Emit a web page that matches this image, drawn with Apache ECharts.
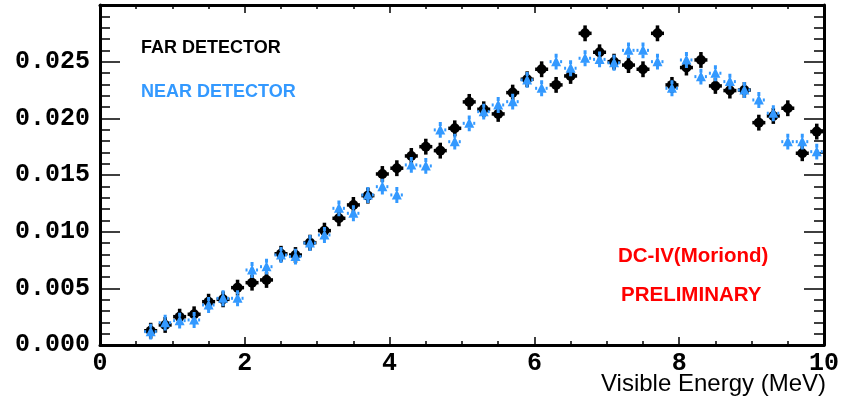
<!DOCTYPE html>
<html>
<head>
<meta charset="utf-8">
<script src="https://cdn.jsdelivr.net/npm/echarts@6/dist/echarts.min.js"></script>
<style>
  html, body { margin: 0; padding: 0; background: #fff; }
  #chart { width: 842px; height: 404px; }
</style>
</head>
<body>
<div id="chart"></div>
<script>
// bin centres (MeV), 0.2 MeV bins
const energy = [0.7, 0.9, 1.1, 1.3, 1.5, 1.7, 1.9, 2.1, 2.3, 2.5,
  2.7, 2.9, 3.1, 3.3, 3.5, 3.7, 3.9, 4.1, 4.3, 4.5,
  4.7, 4.9, 5.1, 5.3, 5.5, 5.7, 5.9, 6.1, 6.3, 6.5,
  6.7, 6.9, 7.1, 7.3, 7.5, 7.7, 7.9, 8.1, 8.3, 8.5,
  8.7, 8.9, 9.1, 9.3, 9.5, 9.7, 9.9];

// normalised spectra
const farDetector = [0.00126, 0.00177, 0.00250, 0.00271, 0.00382, 0.00403, 0.00506, 0.00550, 0.00574, 0.00805,
  0.00794, 0.00903, 0.01009, 0.01118, 0.01236, 0.01318, 0.01509, 0.01560, 0.01668, 0.01750,
  0.01715, 0.01912, 0.02145, 0.02080, 0.02039, 0.02227, 0.02345, 0.02433, 0.02295, 0.02374,
  0.02750, 0.02583, 0.02500, 0.02470, 0.02433, 0.02750, 0.02295, 0.02448, 0.02515, 0.02286,
  0.02245, 0.02250, 0.01962, 0.02021, 0.02089, 0.01692, 0.01883];
const nearDetector = [0.00118, 0.00197, 0.00215, 0.00221, 0.00353, 0.00412, 0.00412, 0.00662, 0.00691, 0.00794,
  0.00780, 0.00900, 0.00971, 0.01206, 0.01162, 0.01324, 0.01397, 0.01324, 0.01589, 0.01580,
  0.01898, 0.01794, 0.01956, 0.02059, 0.02118, 0.02147, 0.02339, 0.02265, 0.02500, 0.02442,
  0.02530, 0.02520, 0.02490, 0.02600, 0.02600, 0.02500, 0.02265, 0.02515, 0.02368, 0.02398,
  0.02324, 0.02250, 0.02162, 0.02045, 0.01794, 0.01794, 0.01706];

const halfBin = 0.09;
const yErr = 0.0007;
const blue = '#3399ff';

const farData = energy.map((e, i) => [e, farDetector[i]]);
const nearData = energy.map((e, i) => [e, nearDetector[i]]);

function farItem(params, api) {
  const x = api.value(0), y = api.value(1);
  const c = api.coord([x, y]);
  const l = api.coord([x - halfBin, y]);
  const r = api.coord([x + halfBin, y]);
  const t = api.coord([x, y + yErr]);
  const b = api.coord([x, y - yErr]);
  return {
    type: 'group',
    children: [
      { type: 'line', shape: { x1: l[0], y1: c[1], x2: r[0], y2: c[1] }, style: { stroke: '#000', lineWidth: 3.5 } },
      { type: 'line', shape: { x1: c[0], y1: t[1], x2: c[0], y2: b[1] }, style: { stroke: '#000', lineWidth: 3.5 } },
      { type: 'circle', shape: { cx: c[0], cy: c[1], r: 5 }, style: { fill: '#000' } }
    ]
  };
}

function nearItem(params, api) {
  const x = api.value(0), y = api.value(1);
  const c = api.coord([x, y]);
  const l = api.coord([x - halfBin, y]);
  const r = api.coord([x + halfBin, y]);
  const t = api.coord([x, y + yErr]);
  const b = api.coord([x, y - yErr]);
  return {
    type: 'group',
    children: [
      { type: 'line', shape: { x1: l[0], y1: c[1], x2: c[0] - 4, y2: c[1] }, style: { stroke: blue, lineWidth: 3, lineDash: [2, 3] } },
      { type: 'line', shape: { x1: c[0] + 4, y1: c[1], x2: r[0], y2: c[1] }, style: { stroke: blue, lineWidth: 3, lineDash: [2, 3] } },
      { type: 'line', shape: { x1: c[0], y1: t[1], x2: c[0], y2: b[1] }, style: { stroke: blue, lineWidth: 3, lineDash: [4, 2] } },
      { type: 'polygon', shape: { points: [[c[0], c[1] - 5.5], [c[0] - 5, c[1] + 4.5], [c[0] + 5, c[1] + 4.5]] }, style: { fill: blue } }
    ]
  };
}

const chart = echarts.init(document.getElementById('chart'));

const tickFont = { fontFamily: 'Liberation Mono', fontWeight: 'bold', fontSize: 25, color: '#000' };
const frameLine = { show: true, onZero: false, lineStyle: { color: '#000', width: 3 } };

chart.setOption({
  animation: false,
  grid: { left: 100, right: 16, top: 5, bottom: 59 },
  xAxis: [
    {
      type: 'value', min: 0, max: 10, interval: 2,
      axisLine: frameLine,
      axisTick: { show: true, inside: true, length: 8, lineStyle: { color: '#000', width: 1.5 } },
      minorTick: { show: true, splitNumber: 4, length: 4, lineStyle: { color: '#000', width: 1.5 } },
      axisLabel: Object.assign({ margin: 6 }, tickFont),
      splitLine: { show: false }
    },
    {
      type: 'value', position: 'top', min: 0, max: 10, interval: 2,
      axisLine: frameLine,
      axisTick: { show: true, inside: true, length: 8, lineStyle: { color: '#000', width: 1.5 } },
      minorTick: { show: true, splitNumber: 4, length: 4, lineStyle: { color: '#000', width: 1.5 } },
      axisLabel: { show: false },
      splitLine: { show: false }
    }
  ],
  yAxis: [
    {
      type: 'value', min: 0, max: 0.03, interval: 0.005,
      axisLine: frameLine,
      axisTick: { show: true, inside: true, length: 20, lineStyle: { color: '#000', width: 1.5 } },
      minorTick: { show: true, splitNumber: 5, length: 10, lineStyle: { color: '#000', width: 1.5 } },
      axisLabel: Object.assign({
        margin: 10,
        formatter: v => (v >= 0.0299 ? '' : v.toFixed(3))
      }, tickFont),
      splitLine: { show: false }
    },
    {
      type: 'value', position: 'right', min: 0, max: 0.03, interval: 0.005,
      axisLine: frameLine,
      axisTick: { show: true, inside: true, length: 20, lineStyle: { color: '#000', width: 1.5 } },
      minorTick: { show: true, splitNumber: 5, length: 10, lineStyle: { color: '#000', width: 1.5 } },
      axisLabel: { show: false },
      splitLine: { show: false }
    }
  ],
  series: [
    { name: 'FAR DETECTOR', type: 'custom', renderItem: farItem, data: farData, clip: true },
    { name: 'NEAR DETECTOR', type: 'custom', renderItem: nearItem, data: nearData, clip: true }
  ],
  graphic: [
    { type: 'text', left: 141, top: 39, style: { text: 'FAR DETECTOR', fill: '#000', font: 'bold 18px "Liberation Sans", Arial, sans-serif' } },
    { type: 'text', left: 141, top: 83, style: { text: 'NEAR DETECTOR', fill: blue, font: 'bold 18px "Liberation Sans", Arial, sans-serif' } },
    { type: 'text', left: 618, top: 246, style: { text: 'DC-IV(Moriond)', fill: '#ff0000', font: 'bold 20.5px "Liberation Sans", Arial, sans-serif' } },
    { type: 'text', left: 621, top: 285, style: { text: 'PRELIMINARY', fill: '#ff0000', font: 'bold 20.5px "Liberation Sans", Arial, sans-serif' } },
    { type: 'text', right: 16, top: 372, style: { text: 'Visible Energy (MeV)', fill: '#000', font: '24px "Liberation Sans", Arial, sans-serif' } }
  ]
});
</script>
</body>
</html>
